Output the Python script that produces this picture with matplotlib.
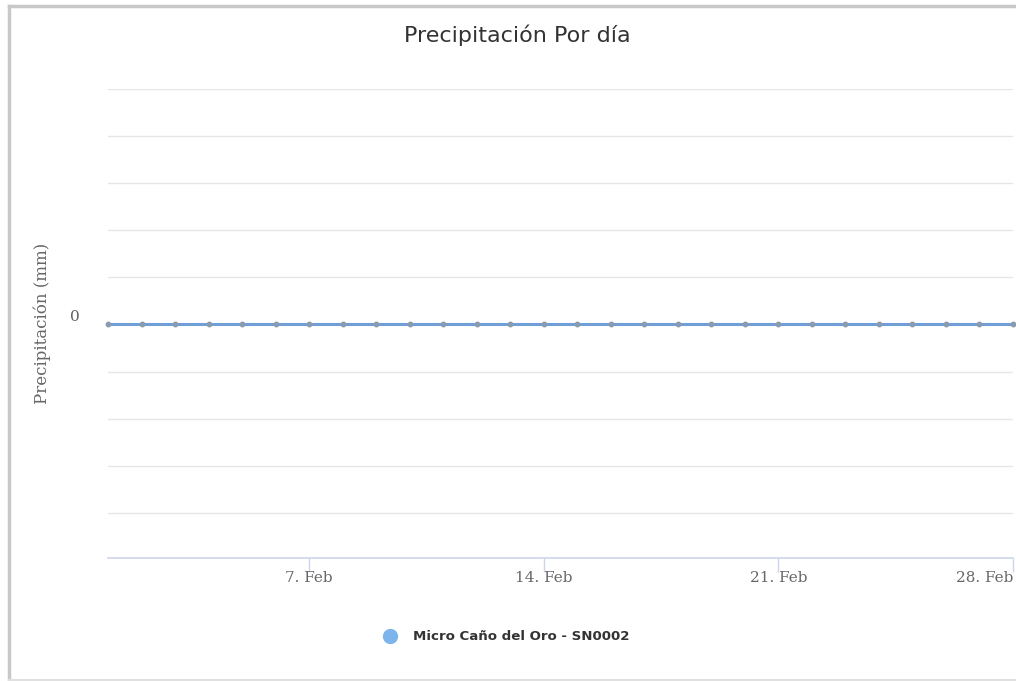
import matplotlib
matplotlib.use("Agg")
import matplotlib.pyplot as plt
from matplotlib.lines import Line2D
import datetime as dt

# Data
days = list(range(1, 29))
dates = [dt.date(2019, 2, d) for d in days]
precip = [0] * 28
series_name = "Micro Caño del Oro - SN0002"
tick_days = [7, 14, 21, 28]
tick_labels = ["7. Feb", "14. Feb", "21. Feb", "28. Feb"]

W, H = 1016, 681
fig = plt.figure(figsize=(W / 100, H / 100), dpi=100)
fig.patch.set_facecolor("white")

# outer frame (screenshot border: left, top, bottom)
frame_kw = dict(color="#c8c8c8", linewidth=2.5, transform=fig.transFigure)
fig.add_artist(Line2D([8.5 / W, 8.5 / W], [0, 1 - 5.5 / H], **frame_kw))
fig.add_artist(Line2D([8.5 / W, 1], [1 - 5.5 / H, 1 - 5.5 / H], **frame_kw))
fig.add_artist(Line2D([8.5 / W, 1], [0.7 / H, 0.7 / H], color="#e0e0e0", linewidth=1.5,
                      transform=fig.transFigure))

ax = fig.add_axes([108 / W, (H - 558) / H, (1013 - 108) / W, (558 - 89) / H])
ax.set_facecolor("white")

ax.plot(dates, precip, color="#6f9fd6", linewidth=2.2, marker="o", markersize=3.2,
        markerfacecolor="#8a9bb0", markeredgecolor="#8a9bb0", zorder=3, clip_on=False)

ax.set_xlim(dates[0], dates[-1])
ax.set_ylim(-4.96, 5)
ax.set_yticks(range(-4, 6))
ax.set_yticklabels(["0" if v == 0 else "" for v in range(-4, 6)])
ax.grid(axis="y", color="#e6e6e6", linewidth=1)
ax.tick_params(axis="y", length=0, labelsize=11, labelcolor="#606060", pad=24)
for lbl in ax.get_yticklabels():
    lbl.set_family("DejaVu Serif")
    lbl.set_verticalalignment("bottom")
    lbl.set_horizontalalignment("center")

ax.set_xticks([dt.date(2019, 2, d) for d in tick_days])
ax.set_xticklabels(tick_labels, family="DejaVu Serif", fontsize=11, color="#666666")
ax.tick_params(axis="x", length=10, width=1, color="#ccd6eb", pad=-1, direction="out")
ax.get_xticklabels()[-1].set_horizontalalignment("right")

for s in ["top", "right", "left"]:
    ax.spines[s].set_visible(False)
ax.spines["bottom"].set_color("#ccd6eb")
ax.spines["bottom"].set_linewidth(1.2)

ax.set_ylabel("Precipitación (mm)", family="DejaVu Serif", fontsize=12, color="#666666")
ax.yaxis.set_label_coords(-57 / 905, 0.5)

fig.text(517 / W, 1 - 35 / H, "Precipitación Por día", ha="center", va="center",
         fontsize=16, color="#333333", family="DejaVu Sans")

# legend
fig.text(413 / W, 1 - 637 / H, series_name, ha="left", va="center", fontsize=9.6,
         color="#333333", family="DejaVu Sans", fontweight="bold")
fig.add_artist(Line2D([390 / W], [1 - 636 / H], marker="o", markersize=10,
                      color="#7cb5ec", transform=fig.transFigure))

fig.savefig("out.png", dpi=100)
